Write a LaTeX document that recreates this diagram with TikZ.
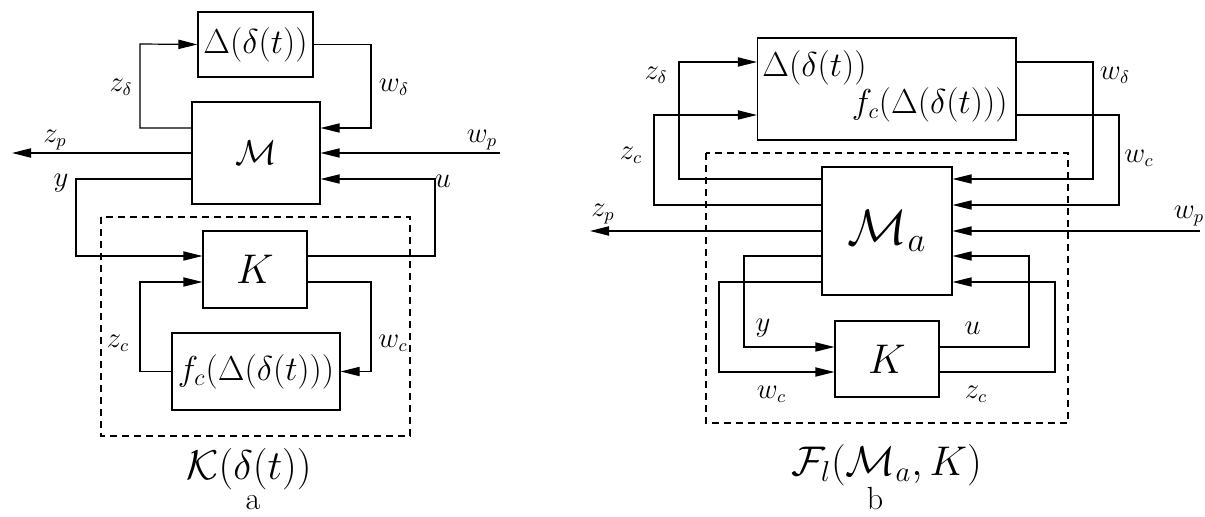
\documentclass[tikz,border=0pt]{standalone}
\usetikzlibrary{arrows.meta,calc}

\tikzset{
  blk/.style={draw, line width=0.6pt, inner sep=0pt},
  sig/.style={line width=0.6pt, -{Triangle[length=9.5pt,width=4.6pt]}},
  frame/.style={draw, line width=0.6pt, dash pattern=on 3.5pt off 2.5pt},
  lbl/.style={font=\fontsize{13.5}{16}\selectfont, inner sep=0pt},
  captxt/.style={font=\fontsize{19.5}{23}\selectfont, inner sep=0pt},
  tag/.style={font=\fontsize{16}{19}\selectfont, inner sep=0pt, anchor=base},
}

\begin{document}
\begin{tikzpicture}[x=0.5pt,y=-0.5pt]
  \useasboundingbox (0,0) rectangle (1205,517);

  % --- a: controller with scheduling block
  \draw[frame] (101,217) rectangle (410,436);
  \node[blk, minimum width=57.5pt, minimum height=32.5pt, font=\fontsize{16}{19}\selectfont] (D) at (255.5,44.5) {$\Delta(\delta(t))$};
  \node[blk, minimum width=64pt, minimum height=51pt, font=\fontsize{19}{22}\selectfont] (M) at (256,153) {$\mathcal{M}$};
  \node[blk, minimum width=52pt, minimum height=38.5pt, font=\fontsize{20}{24}\selectfont] (K) at (255,269.5) {$K$};
  \node[blk, minimum width=84pt, minimum height=38.5pt, font=\fontsize{16.8}{20}\selectfont] (F) at (256,371.5) {$f_c(\Delta(\delta(t)))$};
  \coordinate (zpa) at (12,153);
  \coordinate (wpa) at (500,153);

  \draw[sig] (M.west |- 0,128) -| (140,44) -- (D.west);
  \draw[sig] (D.east) -| (371,128) -- (M.east |- 0,128);
  \draw[sig] (M.west) -- (zpa);
  \draw[sig] (wpa) -- (M.east);
  \draw[sig] (M.west |- 0,179) -| (76,256) -- (K.west |- 0,256);
  \draw[sig] (K.east |- 0,256) -| (435,179) -- (M.east |- 0,179);
  \draw[sig] (F.west) -| (140,282) -- (K.west |- 0,282);
  \draw[sig] (K.east |- 0,282) -| (371,371.5) -- (F.east);

  \node[lbl] (la1) at (121,87) {$z_\delta$};
  \node[lbl] (la2) at (394,87) {$w_\delta$};
  \node[lbl] (la3) at (55,140) {$z_p$};
  \node[lbl] (la4) at (482,140) {$w_p$};
  \node[lbl] (la5) at (61,183) {$y$};
  \node[lbl] (la6) at (443,181) {$u$};
  \node[lbl] (la7) at (118,343) {$z_c$};
  \node[lbl] (la8) at (393,343) {$w_c$};
  \node[captxt] (capa) at (249,469) {$\mathcal{K}(\delta(t))$};
  \node[tag] (tga) at (253,510) {a};

  % --- b: augmented plant with LFT
  \draw[frame] (706,153) rectangle (1068,423);
  \node[blk, minimum width=129.25pt, minimum height=51pt] (B) at (886.75,89) {};
  \node[inner sep=0pt, anchor=west, font=\fontsize{16}{19}\selectfont] (Bd) at (762,68) {$\Delta(\delta(t))$};
  \node[inner sep=0pt, anchor=east, font=\fontsize{16}{19}\selectfont] (Bf) at (1008,105) {$f_c(\Delta(\delta(t)))$};
  \node[blk, minimum width=65pt, minimum height=64pt, font=\fontsize{24}{28}\selectfont] (Ma) at (887,231) {$\mathcal{M}_a$};
  \node[blk, minimum width=52pt, minimum height=38pt, font=\fontsize{20}{24}\selectfont] (K2) at (887,359) {$K$};
  \coordinate (zpb) at (590,231);
  \coordinate (wpb) at (1200,231);

  \draw[sig] (Ma.west |- 0,179) -| (679,62) -- (B.west |- 0,62);
  \draw[sig] (Ma.west |- 0,205) -| (654,115) -- (B.west |- 0,115);
  \draw[sig] (B.east |- 0,62) -| (1093,179) -- (Ma.east |- 0,179);
  \draw[sig] (B.east |- 0,115) -| (1119,205) -- (Ma.east |- 0,205);
  \draw[sig] (Ma.west) -- (zpb);
  \draw[sig] (wpb) -- (Ma.east);
  \draw[sig] (Ma.west |- 0,256) -| (744,347) -- (K2.west |- 0,347);
  \draw[sig] (Ma.west |- 0,282) -| (719,372) -- (K2.west |- 0,372);
  \draw[sig] (K2.east |- 0,347) -| (1029,256) -- (Ma.east |- 0,256);
  \draw[sig] (K2.east |- 0,372) -| (1055,282) -- (Ma.east |- 0,282);

  \node[lbl] (lb1) at (656,75) {$z_\delta$};
  \node[lbl] (lb2) at (631,155) {$z_c$};
  \node[lbl] (lb3) at (1115,75) {$w_\delta$};
  \node[lbl] (lb4) at (1139,158) {$w_c$};
  \node[lbl] (lb5) at (603,214) {$z_p$};
  \node[lbl] (lb6) at (1189,216) {$w_p$};
  \node[lbl] (lb7) at (763,328) {$y$};
  \node[lbl] (lb8) at (771.5,394) {$w_c$};
  \node[lbl] (lb9) at (972.6,328) {$u$};
  \node[lbl] (lb10) at (976,394) {$z_c$};
  \node[captxt] (capb) at (886.5,465) {$\mathcal{F}_l(\mathcal{M}_a,K)$};
  \node[tag] (tgb) at (875,510) {b};
\end{tikzpicture}
\end{document}
